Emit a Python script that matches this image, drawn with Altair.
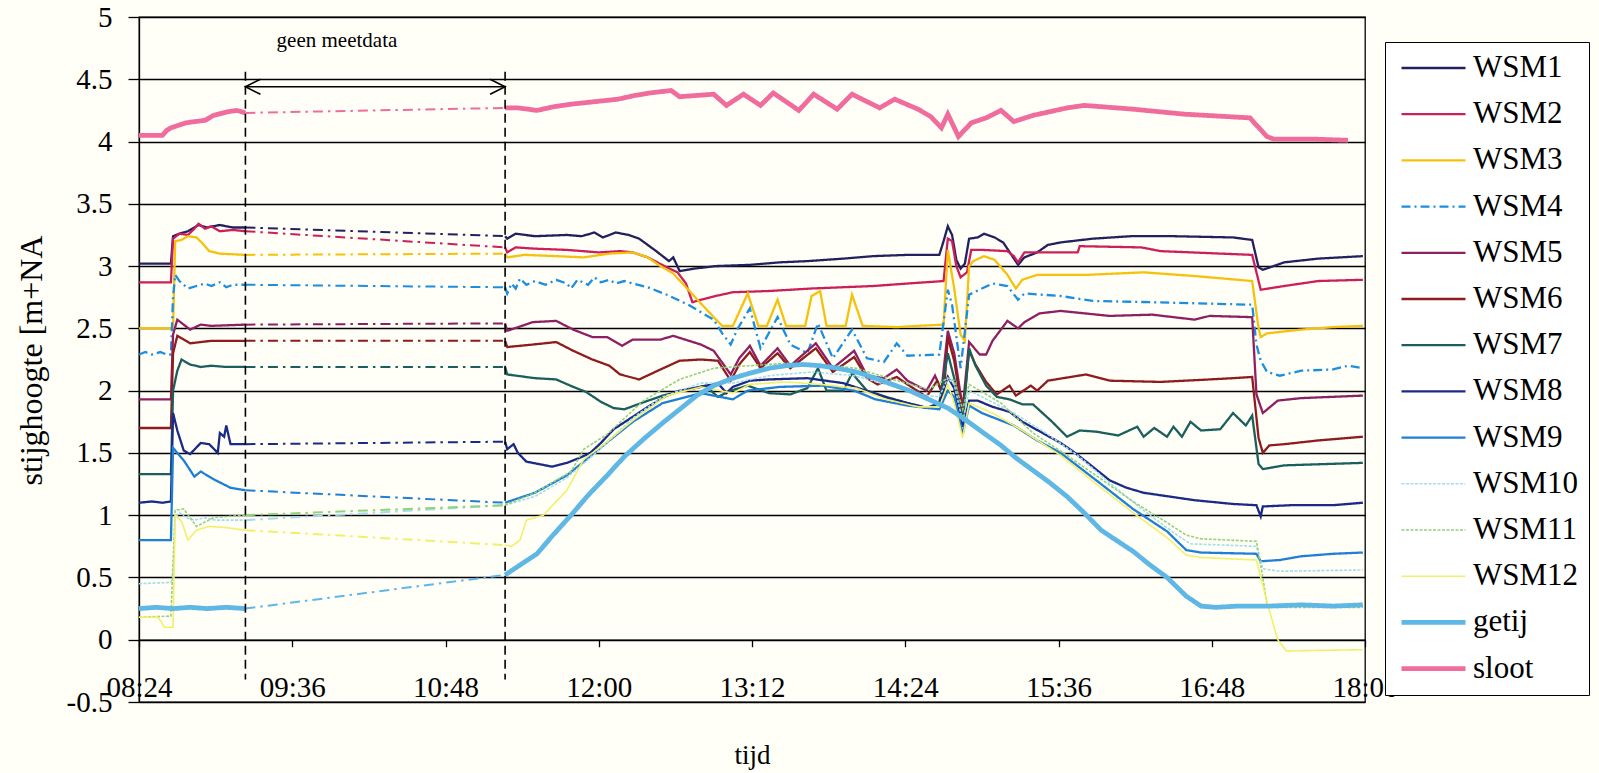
import altair as alt
import pandas as pd

SERIES = ["WSM1", "WSM2", "WSM3", "WSM4", "WSM5", "WSM6", "WSM7", "WSM8",
          "WSM9", "WSM10", "WSM11", "WSM12", "getij", "sloot"]
COLORS = ["#23205e", "#cc1f5a", "#f4c20d", "#1c8ee0", "#8e1f62", "#8e1b1e", "#1b5f5c",
          "#1b2a86", "#1f7fd7", "#a3dcee", "#93d27c", "#f3ef6b", "#5fb7e6", "#f06c9c"]
WIDTHS = [2.3, 2.3, 2.3, 2.3, 2.3, 2.3, 2.3, 2.3, 2.3, 1.6, 1.6, 1.6, 4.8, 4.8]
DASHES = [[1, 0], [1, 0], [1, 0], [9, 4, 2, 4], [1, 0], [1, 0], [1, 0], [1, 0],
          [1, 0], [3, 1.5], [3, 1.5], [1, 0], [1, 0], [1, 0]]

X_TICKS = ["08:24", "09:36", "10:48", "12:00", "13:12", "14:24", "15:36", "16:48", "18:00"]
Y_TICKS = [-0.5, 0, 0.5, 1, 1.5, 2, 2.5, 3, 3.5, 4, 4.5, 5]
GAP_START = "09:14"
GAP_END = "11:16"

WSM1 = [("08:24", 3.02), ("08:39", 3.02), ("08:40", 3.24), ("08:43", 3.26), ("08:47", 3.28),
        ("08:52", 3.33), ("08:56", 3.31), ("09:02", 3.33), ("09:08", 3.31), ("09:14", 3.31),
        ("11:16", 3.24), ("11:17", 3.22), ("11:21", 3.26), ("11:30", 3.24), ("11:45", 3.25),
        ("11:52", 3.24), ("11:58", 3.27), ("12:02", 3.23), ("12:08", 3.27), ("12:14", 3.25),
        ("12:19", 3.22), ("12:27", 3.12), ("12:33", 3.04), ("12:35", 3.07), ("12:38", 2.96),
        ("12:45", 2.98), ("12:55", 3.00), ("13:11", 3.01), ("13:25", 3.03), ("13:38", 3.04),
        ("13:55", 3.06), ("14:09", 3.08), ("14:25", 3.09), ("14:40", 3.09), ("14:42", 3.20),
        ("14:44", 3.32), ("14:46", 3.25), ("14:48", 3.05), ("14:50", 2.98), ("14:52", 3.02),
        ("14:54", 3.22), ("14:58", 3.23), ("15:01", 3.26), ("15:06", 3.23), ("15:10", 3.19),
        ("15:17", 3.01), ("15:20", 3.07), ("15:26", 3.11), ("15:31", 3.17), ("15:37", 3.19),
        ("15:52", 3.22), ("16:10", 3.24), ("16:30", 3.24), ("16:58", 3.23), ("17:07", 3.21),
        ("17:10", 2.99), ("17:12", 2.97), ("17:22", 3.03), ("17:38", 3.06), ("17:59", 3.08)]

WSM2 = [("08:24", 2.87), ("08:39", 2.87), ("08:40", 3.22), ("08:43", 3.26), ("08:47", 3.25),
        ("08:50", 3.30), ("08:52", 3.34), ("08:55", 3.30), ("08:58", 3.32), ("09:02", 3.28),
        ("09:08", 3.29), ("09:14", 3.28),
        ("11:16", 3.15), ("11:17", 3.11), ("11:21", 3.15), ("11:30", 3.14), ("11:45", 3.13),
        ("12:00", 3.11), ("12:10", 3.12), ("12:16", 3.11), ("12:23", 3.07), ("12:32", 2.99),
        ("12:37", 2.95), ("12:41", 2.86), ("12:44", 2.71), ("12:48", 2.73), ("12:55", 2.76),
        ("13:03", 2.79), ("13:20", 2.80), ("13:40", 2.82), ("14:09", 2.84), ("14:25", 2.86),
        ("14:42", 2.88), ("14:44", 3.22), ("14:46", 3.20), ("14:48", 3.00), ("14:50", 2.91),
        ("14:53", 2.95), ("14:55", 3.13), ("15:00", 3.13), ("15:12", 3.12), ("15:15", 3.08),
        ("15:17", 3.03), ("15:20", 3.11), ("15:45", 3.11), ("15:46", 3.16), ("16:15", 3.15),
        ("16:24", 3.12), ("17:07", 3.09), ("17:11", 2.81), ("17:22", 2.84), ("17:38", 2.88),
        ("17:59", 2.89)]

WSM3 = [("08:24", 2.50), ("08:40", 2.50), ("08:41", 3.20), ("08:44", 3.21), ("08:47", 3.24),
        ("08:51", 3.23), ("08:54", 3.18), ("08:57", 3.12), ("09:02", 3.10), ("09:14", 3.09),
        ("11:16", 3.10), ("11:17", 3.07), ("11:25", 3.09), ("11:40", 3.08), ("11:53", 3.07),
        ("12:05", 3.10), ("12:16", 3.11), ("12:23", 3.07), ("12:29", 3.00), ("12:35", 2.94),
        ("12:41", 2.83), ("12:48", 2.70), ("12:54", 2.59), ("12:58", 2.52), ("13:03", 2.52),
        ("13:10", 2.78), ("13:15", 2.52), ("13:19", 2.52), ("13:24", 2.73), ("13:28", 2.52),
        ("13:37", 2.52), ("13:40", 2.76), ("13:44", 2.80), ("13:47", 2.52), ("13:56", 2.52),
        ("13:59", 2.77), ("14:04", 2.52), ("14:20", 2.51), ("14:30", 2.52), ("14:42", 2.53),
        ("14:44", 3.13), ("14:47", 2.82), ("14:50", 2.45), ("14:52", 2.40), ("14:54", 3.00),
        ("14:56", 3.04), ("15:01", 3.08), ("15:06", 3.05), ("15:12", 2.93), ("15:16", 2.82),
        ("15:19", 2.89), ("15:26", 2.93), ("15:50", 2.93), ("16:16", 2.95), ("16:40", 2.92),
        ("17:07", 2.88), ("17:10", 2.50), ("17:11", 2.43), ("17:14", 2.46), ("17:30", 2.49),
        ("17:45", 2.51), ("17:59", 2.52)]

WSM4 = [("08:24", 2.29), ("08:27", 2.31), ("08:30", 2.29), ("08:34", 2.31), ("08:37", 2.29),
        ("08:39", 2.29), ("08:40", 2.75),
        ("08:41", 2.93), ("08:43", 2.88), ("08:47", 2.82), ("08:51", 2.84), ("08:55", 2.86),
        ("08:58", 2.84), ("09:02", 2.87), ("09:05", 2.83), ("09:08", 2.85), ("09:14", 2.85),
        ("11:16", 2.83), ("11:17", 2.78), ("11:19", 2.86), ("11:21", 2.82), ("11:23", 2.90),
        ("11:26", 2.85), ("11:30", 2.88), ("11:35", 2.85), ("11:40", 2.89), ("11:45", 2.86),
        ("11:47", 2.82), ("11:50", 2.89), ("11:55", 2.85), ("11:58", 2.91), ("12:01", 2.87),
        ("12:05", 2.89), ("12:08", 2.86), ("12:12", 2.88),
        ("12:16", 2.86), ("12:23", 2.83), ("12:32", 2.77), ("12:42", 2.69), ("12:48", 2.63),
        ("12:54", 2.57), ("12:58", 2.46), ("13:02", 2.37), ("13:05", 2.49), ("13:11", 2.66),
        ("13:16", 2.34), ("13:24", 2.59), ("13:30", 2.37), ("13:38", 2.30), ("13:43", 2.54),
        ("13:50", 2.26), ("13:59", 2.49), ("14:06", 2.26), ("14:14", 2.23), ("14:20", 2.38),
        ("14:25", 2.28), ("14:40", 2.29), ("14:44", 2.81), ("14:46", 2.69), ("14:50", 2.18),
        ("14:54", 2.77), ("15:00", 2.82), ("15:05", 2.86), ("15:12", 2.84), ("15:17", 2.73),
        ("15:20", 2.78), ("15:37", 2.76), ("15:52", 2.72), ("16:20", 2.71), ("17:07", 2.69),
        ("17:09", 2.37), ("17:11", 2.24), ("17:14", 2.15), ("17:20", 2.12), ("17:30", 2.16),
        ("17:45", 2.17), ("17:52", 2.20), ("17:59", 2.18)]

WSM5 = [("08:24", 1.93), ("08:39", 1.93), ("08:40", 2.45), ("08:42", 2.57), ("08:45", 2.53),
        ("08:48", 2.49), ("08:53", 2.53), ("08:58", 2.52), ("09:14", 2.53),
        ("11:16", 2.54), ("11:17", 2.48), ("11:29", 2.55), ("11:40", 2.56), ("11:48", 2.49),
        ("11:57", 2.43), ("12:04", 2.43), ("12:11", 2.36), ("12:16", 2.41), ("12:29", 2.41),
        ("12:35", 2.44), ("12:48", 2.37), ("12:54", 2.32), ("13:02", 2.13), ("13:06", 2.26),
        ("13:11", 2.36), ("13:16", 2.20), ("13:24", 2.34), ("13:30", 2.20), ("13:42", 2.38),
        ("13:50", 2.18), ("14:00", 2.32), ("14:06", 2.12), ("14:14", 2.10), ("14:20", 2.17),
        ("14:25", 2.08), ("14:34", 2.00), ("14:38", 2.12), ("14:41", 2.00), ("14:44", 2.48),
        ("14:47", 2.30), ("14:51", 1.86), ("14:54", 2.39), ("14:59", 2.29), ("15:02", 2.29),
        ("15:05", 2.40), ("15:12", 2.56), ("15:17", 2.50), ("15:20", 2.55), ("15:27", 2.62),
        ("15:37", 2.64), ("16:00", 2.60), ("16:20", 2.61), ("16:40", 2.57), ("16:47", 2.60),
        ("17:07", 2.59), ("17:09", 1.97), ("17:12", 1.82), ("17:19", 1.92), ("17:30", 1.94),
        ("17:59", 1.96)]

WSM6 = [("08:24", 1.70), ("08:39", 1.70), ("08:40", 2.30), ("08:42", 2.44), ("08:45", 2.41),
        ("08:48", 2.38), ("08:53", 2.39), ("08:58", 2.40), ("09:14", 2.40),
        ("11:16", 2.40), ("11:17", 2.35), ("11:29", 2.37), ("11:40", 2.39), ("11:48", 2.32),
        ("11:57", 2.25), ("12:05", 2.20), ("12:10", 2.13), ("12:19", 2.09), ("12:29", 2.17),
        ("12:38", 2.24), ("12:48", 2.25), ("12:56", 2.24), ("13:02", 2.08), ("13:06", 2.21),
        ("13:11", 2.31), ("13:16", 2.18), ("13:24", 2.30), ("13:30", 2.18), ("13:42", 2.34),
        ("13:50", 2.15), ("14:00", 2.27), ("14:06", 2.10), ("14:11", 2.05), ("14:20", 2.11),
        ("14:25", 2.05), ("14:34", 1.95), ("14:39", 2.08), ("14:42", 1.95), ("14:44", 2.43),
        ("14:47", 2.24), ("14:51", 1.81), ("14:54", 2.32), ("14:57", 2.21), ("15:02", 2.07),
        ("15:07", 1.97), ("15:13", 2.04), ("15:16", 1.96), ("15:23", 2.04), ("15:26", 2.00),
        ("15:31", 2.08), ("15:49", 2.13), ("16:00", 2.08), ("16:24", 2.07), ("16:47", 2.09),
        ("16:58", 2.10), ("17:07", 2.11), ("17:10", 1.62), ("17:12", 1.50), ("17:15", 1.56),
        ("17:22", 1.57), ("17:38", 1.60), ("17:59", 1.63)]

WSM7 = [("08:24", 1.33), ("08:39", 1.33), ("08:40", 2.00), ("08:42", 2.16), ("08:44", 2.25),
        ("08:48", 2.21), ("08:53", 2.19), ("08:58", 2.20), ("09:05", 2.19), ("09:14", 2.19),
        ("11:16", 2.19), ("11:17", 2.13), ("11:30", 2.10), ("11:40", 2.09), ("11:48", 2.03),
        ("11:54", 1.99), ("12:01", 1.91), ("12:07", 1.86), ("12:12", 1.85), ("12:20", 1.90),
        ("12:30", 1.96), ("12:40", 2.00), ("12:50", 2.04), ("12:56", 1.95), ("13:02", 2.00),
        ("13:10", 2.04), ("13:20", 1.98), ("13:30", 1.97), ("13:38", 2.02), ("13:43", 2.18),
        ("13:47", 2.00), ("13:55", 2.00), ("13:59", 2.14), ("14:06", 2.00), ("14:15", 1.95),
        ("14:25", 1.90), ("14:35", 1.86), ("14:40", 1.90), ("14:44", 2.30), ("14:47", 2.10),
        ("14:51", 1.75), ("14:54", 2.34), ("14:57", 2.20), ("15:02", 2.04), ("15:07", 1.95),
        ("15:13", 1.93), ("15:19", 1.89), ("15:24", 1.89), ("15:33", 1.75), ("15:40", 1.63),
        ("15:46", 1.68), ("15:54", 1.67), ("16:04", 1.64), ("16:13", 1.71), ("16:16", 1.63),
        ("16:21", 1.70), ("16:27", 1.63), ("16:30", 1.71), ("16:34", 1.63), ("16:38", 1.75),
        ("16:43", 1.68), ("16:52", 1.69), ("16:58", 1.82), ("17:04", 1.72), ("17:07", 1.80),
        ("17:10", 1.41), ("17:12", 1.37), ("17:22", 1.40), ("17:59", 1.42)]

WSM8 = [("08:24", 1.10), ("08:30", 1.11), ("08:35", 1.10), ("08:39", 1.11), ("08:40", 1.82),
        ("08:42", 1.68), ("08:45", 1.52), ("08:48", 1.49), ("08:53", 1.58), ("08:57", 1.57),
        ("09:01", 1.50), ("09:02", 1.66), ("09:04", 1.63), ("09:05", 1.72), ("09:07", 1.57),
        ("09:14", 1.57),
        ("11:16", 1.59), ("11:17", 1.53), ("11:20", 1.57), ("11:22", 1.50), ("11:26", 1.43),
        ("11:32", 1.41), ("11:38", 1.39), ("11:45", 1.42), ("11:51", 1.46), ("11:56", 1.50),
        ("12:01", 1.58), ("12:07", 1.69), ("12:16", 1.79), ("12:24", 1.88), ("12:32", 1.96),
        ("12:38", 2.00), ("12:48", 2.03), ("12:56", 2.06), ("13:00", 1.98), ("13:03", 2.03),
        ("13:11", 2.08), ("13:20", 2.09), ("13:38", 2.10), ("13:55", 2.06), ("14:09", 1.98),
        ("14:14", 1.95), ("14:25", 1.90), ("14:34", 1.86), ("14:40", 1.90), ("14:44", 2.11),
        ("14:47", 2.02), ("14:51", 1.71), ("14:54", 1.92), ("14:58", 1.92), ("15:05", 1.87),
        ("15:13", 1.83), ("15:19", 1.75), ("15:37", 1.58), ("15:43", 1.51), ("15:52", 1.39),
        ("16:00", 1.28), ("16:08", 1.22), ("16:16", 1.18), ("16:24", 1.16), ("16:40", 1.12),
        ("16:58", 1.09), ("17:09", 1.08), ("17:11", 0.99), ("17:12", 1.07), ("17:25", 1.08),
        ("17:45", 1.08), ("17:59", 1.10)]

WSM9 = [("08:24", 0.80), ("08:39", 0.80), ("08:40", 1.54), ("08:45", 1.44), ("08:50", 1.31),
        ("08:53", 1.35), ("09:00", 1.28), ("09:07", 1.22), ("09:14", 1.20),
        ("11:16", 1.10), ("11:30", 1.18), ("11:45", 1.32), ("11:53", 1.43), ("12:05", 1.60),
        ("12:16", 1.75), ("12:30", 1.90), ("12:48", 1.98), ("13:03", 1.93), ("13:10", 2.00),
        ("13:25", 2.03), ("13:45", 2.04), ("14:00", 2.00), ("14:10", 1.93), ("14:25", 1.88),
        ("14:40", 1.85), ("14:44", 2.00), ("14:47", 1.95), ("14:51", 1.65), ("14:54", 1.88),
        ("15:00", 1.82), ("15:15", 1.72), ("15:26", 1.60), ("15:37", 1.50), ("15:56", 1.25),
        ("16:11", 1.05), ("16:27", 0.87), ("16:36", 0.72), ("16:43", 0.70), ("17:09", 0.69),
        ("17:11", 0.63), ("17:20", 0.64), ("17:30", 0.67), ("17:45", 0.69), ("17:59", 0.70)]

WSM10 = [("08:24", 0.45), ("08:39", 0.46), ("08:40", 0.50), ("08:41", 0.98), ("08:43", 1.02),
         ("08:46", 0.98), ("08:50", 0.96), ("08:55", 0.98), ("09:00", 0.96), ("09:14", 0.96),
         ("11:16", 1.08), ("11:30", 1.15), ("11:45", 1.30), ("12:00", 1.52), ("12:16", 1.78),
         ("12:30", 1.95), ("12:48", 2.06), ("13:03", 2.06), ("13:20", 2.12), ("13:40", 2.15),
         ("14:00", 2.12), ("14:15", 2.05), ("14:30", 1.97), ("14:40", 1.95), ("14:44", 2.10),
         ("14:47", 2.05), ("14:51", 1.75), ("14:54", 2.00), ("15:00", 1.95), ("15:15", 1.82),
         ("15:30", 1.66), ("15:45", 1.48), ("16:00", 1.26), ("16:15", 1.05), ("16:30", 0.86),
         ("16:38", 0.77), ("17:09", 0.75), ("17:12", 0.57), ("17:20", 0.55), ("17:59", 0.56)]

WSM11 = [("08:24", 0.18), ("08:39", 0.19), ("08:41", 1.04), ("08:45", 1.05), ("08:51", 0.91),
         ("08:59", 0.98), ("09:06", 0.99), ("09:14", 1.00),
         ("11:16", 1.08), ("11:30", 1.18), ("11:47", 1.35), ("11:53", 1.53), ("12:04", 1.65),
         ("12:21", 1.92), ("12:38", 2.09), ("12:54", 2.18), ("13:11", 2.20), ("13:28", 2.22),
         ("13:44", 2.21), ("14:01", 2.18), ("14:18", 2.09), ("14:35", 2.01), ("14:44", 2.10),
         ("14:47", 2.08), ("14:51", 1.85), ("14:54", 2.05), ("15:09", 1.90), ("15:24", 1.66),
         ("15:40", 1.48), ("15:56", 1.29), ("16:11", 1.11), ("16:27", 0.94), ("16:36", 0.84),
         ("16:43", 0.81), ("17:09", 0.79), ("17:12", 0.50), ("17:14", 0.28), ("17:17", 0.26),
         ("17:59", 0.26)]

WSM12 = [("08:24", 0.18), ("08:33", 0.18), ("08:36", 0.10), ("08:40", 0.10), ("08:41", 1.00),
         ("08:44", 0.95), ("08:47", 0.80), ("08:51", 0.88), ("08:57", 0.91), ("09:05", 0.90),
         ("09:14", 0.88),
         ("11:16", 0.76), ("11:19", 0.75), ("11:23", 0.80), ("11:26", 0.96), ("11:34", 1.00),
         ("11:45", 1.20), ("11:53", 1.45), ("12:01", 1.55), ("12:16", 1.76), ("12:32", 1.96),
         ("12:48", 2.03), ("13:03", 1.98), ("13:11", 2.05), ("13:28", 2.07), ("13:44", 2.05),
         ("14:01", 2.02), ("14:15", 1.93), ("14:30", 1.87), ("14:40", 1.87), ("14:44", 2.05),
         ("14:47", 1.90), ("14:51", 1.62), ("14:54", 1.90), ("15:05", 1.82), ("15:19", 1.68),
         ("15:37", 1.48), ("15:56", 1.22), ("16:11", 1.02), ("16:27", 0.82), ("16:36", 0.68),
         ("16:43", 0.66), ("17:09", 0.64), ("17:14", 0.30), ("17:19", 0.00), ("17:23", -0.09),
         ("17:59", -0.08)]

GETIJ = [("08:24", 0.25), ("08:32", 0.26), ("08:40", 0.25), ("08:48", 0.26), ("08:56", 0.25),
         ("09:05", 0.26), ("09:14", 0.25),
         ("11:16", 0.52), ("11:23", 0.60), ("11:31", 0.69), ("11:39", 0.85), ("11:47", 1.00),
         ("11:55", 1.16), ("12:04", 1.32), ("12:12", 1.47), ("12:21", 1.61), ("12:30", 1.74),
         ("12:38", 1.85), ("12:46", 1.96), ("12:54", 2.04), ("13:03", 2.10), ("13:11", 2.14),
         ("13:20", 2.18), ("13:28", 2.20), ("13:36", 2.21), ("13:44", 2.20), ("13:52", 2.18),
         ("14:01", 2.15), ("14:10", 2.10), ("14:18", 2.05), ("14:26", 2.00), ("14:35", 1.93),
         ("14:44", 1.86), ("14:52", 1.77), ("15:00", 1.67), ("15:09", 1.56), ("15:16", 1.46),
         ("15:24", 1.36), ("15:32", 1.26), ("15:40", 1.15), ("15:48", 1.02), ("15:56", 0.88),
         ("16:03", 0.80), ("16:11", 0.71), ("16:19", 0.60), ("16:27", 0.50), ("16:36", 0.35),
         ("16:43", 0.27), ("16:50", 0.26), ("17:00", 0.27), ("17:15", 0.27), ("17:30", 0.28),
         ("17:45", 0.27), ("17:59", 0.28)]

SLOOT = [("08:24", 4.05), ("08:35", 4.05), ("08:37", 4.09), ("08:39", 4.11), ("08:46", 4.15),
         ("08:50", 4.16), ("08:55", 4.17), ("08:59", 4.21), ("09:06", 4.24), ("09:10", 4.25),
         ("09:14", 4.23),
         ("11:16", 4.27), ("11:22", 4.27), ("11:31", 4.25), ("11:39", 4.28), ("11:47", 4.30),
         ("11:58", 4.32), ("12:09", 4.34), ("12:17", 4.37), ("12:24", 4.39), ("12:34", 4.41),
         ("12:38", 4.36), ("12:46", 4.37), ("12:54", 4.38), ("13:00", 4.29), ("13:08", 4.38),
         ("13:16", 4.29), ("13:22", 4.39), ("13:34", 4.25), ("13:41", 4.38), ("13:52", 4.26),
         ("13:59", 4.38), ("14:12", 4.27), ("14:19", 4.34), ("14:30", 4.26), ("14:36", 4.20),
         ("14:41", 4.11), ("14:44", 4.22), ("14:49", 4.04), ("14:55", 4.15), ("15:02", 4.19),
         ("15:09", 4.25), ("15:15", 4.16), ("15:24", 4.21), ("15:32", 4.24), ("15:40", 4.27),
         ("15:48", 4.29), ("15:56", 4.28), ("16:11", 4.26), ("16:35", 4.22), ("17:06", 4.19),
         ("17:08", 4.15), ("17:14", 4.04), ("17:17", 4.02), ("17:35", 4.02), ("17:52", 4.01)]

ALL = [WSM1, WSM2, WSM3, WSM4, WSM5, WSM6, WSM7, WSM8, WSM9, WSM10, WSM11, WSM12, GETIJ, SLOOT]

ANNOT_TEXT = "geen meetdata"
ANNOT_TIME = "09:57"
ANNOT_LEVEL = 4.81
ARROW_LEVEL = 4.44
DASH_TOP = 4.56
DASH_BOTTOM = -0.32


def ts(hhmm):
    return "2000-01-01T" + hhmm + ":00"


def dt(hhmm):
    h, m = hhmm.split(":")
    return alt.DateTime(year=2000, month=1, date=1, hours=int(h), minutes=int(m))


rows, gap_rows = [], []
for name, pts in zip(SERIES, ALL):
    for t, v in pts:
        rows.append({"series": name, "time": ts(t), "level": v,
                     "seg": "voor" if t <= GAP_START else "na"})
    pre = [p for p in pts if p[0] <= GAP_START][-1]
    post = [p for p in pts if p[0] >= GAP_END][0]
    gap_rows.append({"series": name, "time": ts(pre[0]), "level": pre[1]})
    gap_rows.append({"series": name, "time": ts(post[0]), "level": post[1]})

df = pd.DataFrame(rows)
df_gap = pd.DataFrame(gap_rows)

FONT = "Liberation Serif"
PLOT_W, PLOT_H = 1226, 685
TOP, LEFT = 17, 139

x_scale = alt.Scale(domain=[dt("08:24"), dt("18:00")])
y_scale = alt.Scale(domain=[-0.5, 5], nice=False, zero=False)

x_enc = alt.X("time:T", scale=x_scale,
              axis=alt.Axis(values=[dt(t) for t in X_TICKS], format="%H:%M", title="tijd",
                            offset=-PLOT_H / 11, grid=False, tickSize=7, tickColor="black",
                            tickWidth=1.3, domainColor="black", domainWidth=1.3,
                            labelFont=FONT, labelFontSize=29, labelColor="black",
                            labelPadding=27, labelFlush=False, labelOverlap=False,
                            titleFont=FONT, titleFontSize=27, titleFontWeight="normal",
                            titleColor="black", titleY=116, titleBaseline="middle"))
y_enc = alt.Y("level:Q", scale=y_scale,
              axis=alt.Axis(values=Y_TICKS, labelExpr="'' + datum.value",
                            title="stijghoogte [m+NA", grid=True, gridColor="black",
                            gridWidth=1.3, gridOpacity=1, tickSize=11, tickColor="black",
                            tickWidth=1.3, domainColor="black", domainWidth=1.3,
                            labelFont=FONT, labelFontSize=29, labelColor="black",
                            labelPadding=16, labelFlush=False, labelOverlap=False,
                            titleFont=FONT, titleFontSize=32, titleFontWeight="normal",
                            titleColor="black", titleAngle=270, titleX=-108, titleY=343,
                            titleAlign="center", titleBaseline="middle"))

legend = alt.Legend(title=None, orient="none", legendX=1246, legendY=42 - TOP,
                    strokeColor="black", fillColor="white", padding=10,
                    symbolType="stroke", symbolSize=4096, symbolOffset=4,
                    labelFont=FONT, labelFontSize=31, labelColor="black", labelOffset=5,
                    rowPadding=14.2, clipHeight=32, labelLimit=0)

lines = alt.Chart(df).mark_line().encode(
    x=x_enc,
    y=y_enc,
    color=alt.Color("series:O", scale=alt.Scale(type="ordinal", domain=SERIES, range=COLORS),
                    legend=legend),
    strokeDash=alt.StrokeDash("series:O",
                              scale=alt.Scale(type="ordinal", domain=SERIES, range=DASHES),
                              legend=legend),
    strokeWidth=alt.StrokeWidth("series:O",
                                scale=alt.Scale(type="ordinal", domain=SERIES, range=WIDTHS),
                                legend=legend),
    detail="seg:N",
)

gap_lines = alt.Chart(df_gap).mark_line(strokeDash=[10, 5, 2.5, 5], strokeWidth=2).encode(
    x="time:T", y="level:Q",
    color=alt.Color("series:O", scale=alt.Scale(type="ordinal", domain=SERIES, range=COLORS),
                    legend=None),
)

df_marks = pd.DataFrame({"time": [ts(GAP_START), ts(GAP_END)],
                         "top": [DASH_TOP, DASH_TOP], "bottom": [DASH_BOTTOM, DASH_BOTTOM]})
vlines = alt.Chart(df_marks).mark_rule(color="black", strokeWidth=1.6, strokeDash=[9, 5]).encode(
    x="time:T", y="top:Q", y2="bottom:Q")

df_arrow = pd.DataFrame({"start": [ts(GAP_START)], "end": [ts(GAP_END)], "level": [ARROW_LEVEL]})
arrow = alt.Chart(df_arrow).mark_rule(color="black", strokeWidth=1.6).encode(
    x="start:T", x2="end:T", y="level:Q")
head_l = alt.Chart(df_arrow).mark_point(shape="M2,-1L0,0L2,1", filled=False, size=225,
                                        stroke="black", strokeWidth=1.6, opacity=1).encode(
    x="start:T", y="level:Q")
head_r = alt.Chart(df_arrow).mark_point(shape="M-2,-1L0,0L-2,1", filled=False, size=225,
                                        stroke="black", strokeWidth=1.6, opacity=1).encode(
    x="end:T", y="level:Q")

df_text = pd.DataFrame({"time": [ts(ANNOT_TIME)], "level": [ANNOT_LEVEL], "label": [ANNOT_TEXT]})
annot = alt.Chart(df_text).mark_text(font=FONT, fontSize=21, color="black").encode(
    x="time:T", y="level:Q", text="label:N")

chart = alt.layer(lines, gap_lines, vlines, arrow, head_l, head_r, annot).properties(
    width=PLOT_W, height=PLOT_H,
    padding={"left": LEFT, "top": TOP, "right": 1599 - LEFT - PLOT_W,
             "bottom": 773 - TOP - PLOT_H},
    autosize=alt.AutoSizeParams(type="none"),
    background="#fffef7",
).configure_view(stroke="black", strokeWidth=1.3)

chart.save("out.html", embed_options={"renderer": "svg", "actions": False})
